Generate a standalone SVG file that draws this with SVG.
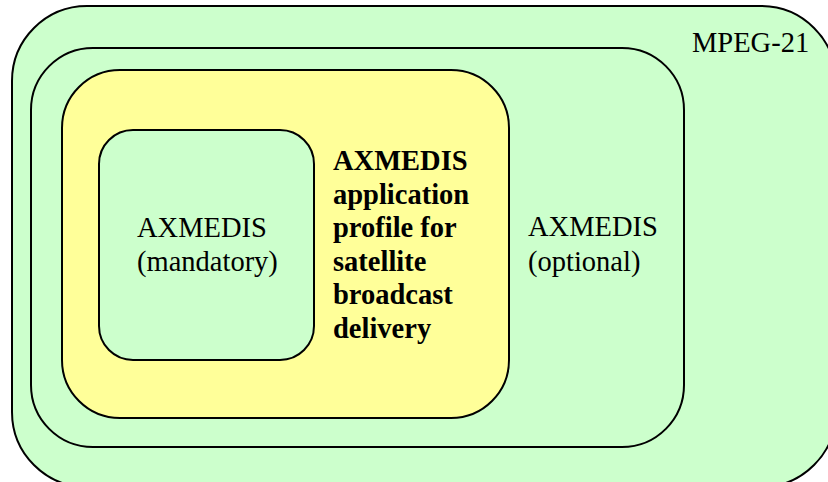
<svg xmlns="http://www.w3.org/2000/svg" width="828" height="482" viewBox="0 0 828 482">
<style>
.box{stroke:#000;stroke-width:2}
.g{fill:#CCFFCC}
.y{fill:#FFFF99}
text{font-family:"Liberation Serif","Times New Roman",serif;font-size:28.5px;fill:#000}
.b{font-weight:bold}
</style>
<rect width="828" height="482" fill="#fff"/>
<g id="mpeg21">
<rect class="box g" x="12" y="6" width="824" height="481" rx="75" ry="75"/>
<text x="692" y="52">MPEG-21</text>
</g>
<g id="axmedis-optional">
<rect class="box g" x="31" y="48" width="653" height="399" rx="62" ry="62"/>
<text x="528" y="236">AXMEDIS</text>
<text x="528" y="271">(optional)</text>
</g>
<g id="profile">
<rect class="box y" x="62" y="70" width="447" height="348" rx="58" ry="58"/>
<text class="b" x="333" y="170">AXMEDIS</text>
<text class="b" x="333" y="203.5">application</text>
<text class="b" x="333" y="237">profile for</text>
<text class="b" x="333" y="270.5">satellite</text>
<text class="b" x="333" y="304">broadcast</text>
<text class="b" x="333" y="337.5">delivery</text>
</g>
<g id="axmedis-mandatory">
<rect class="box g" x="99" y="130" width="215" height="230" rx="34" ry="34"/>
<text x="137" y="237">AXMEDIS</text>
<text x="137" y="271">(mandatory)</text>
</g>
<g id="connectors"/>
</svg>
